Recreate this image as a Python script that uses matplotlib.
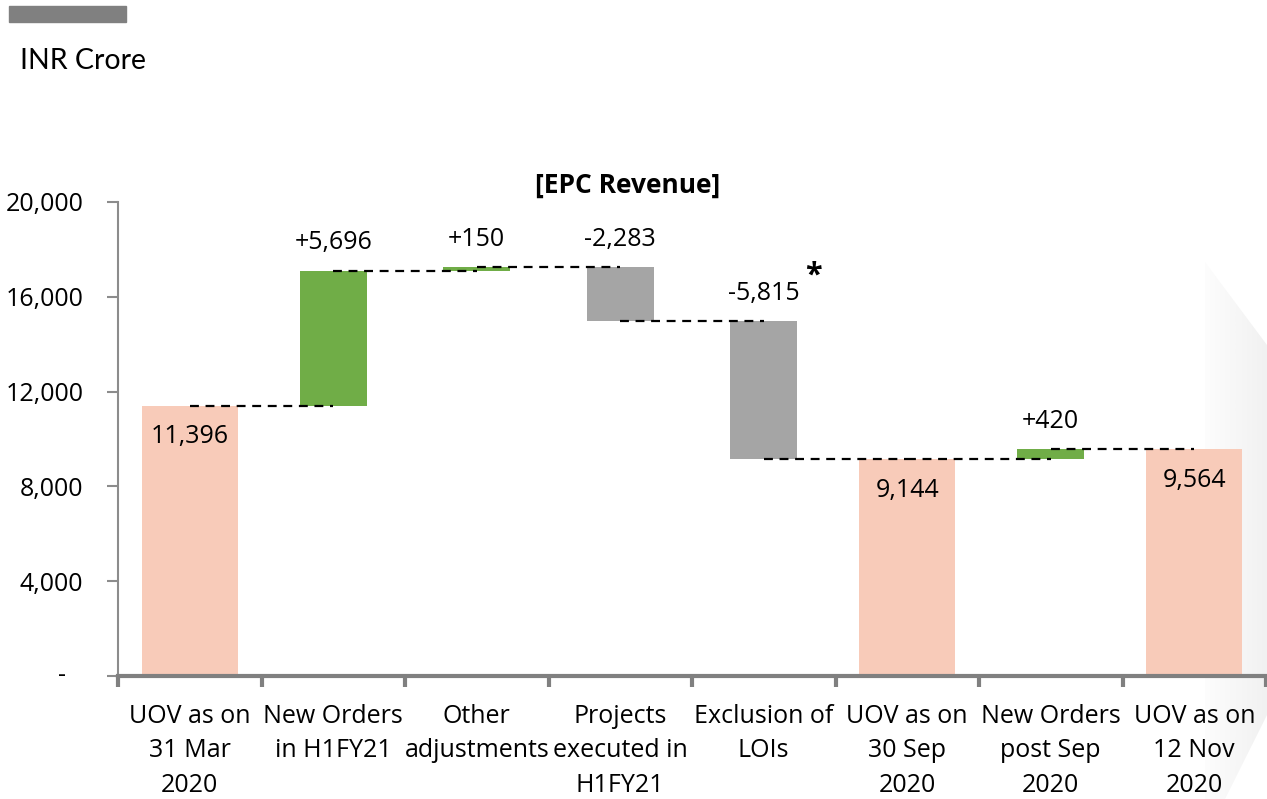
import matplotlib
matplotlib.use("Agg")
import matplotlib.pyplot as plt
from matplotlib.patches import Polygon
import numpy as np

categories = ["UOV as on\n31 Mar\n2020", "New Orders\nin H1FY21", "Other\nadjustments",
              "Projects\nexecuted in\nH1FY21", "Exclusion of\nLOIs", "UOV as on\n30 Sep\n2020",
              "New Orders\npost Sep\n2020", "UOV as on\n12 Nov\n2020"]
values = [11396, 5696, 150, -2283, -5815, 9144, 420, 9564]
kinds = ["total", "delta", "delta", "delta", "delta", "total", "delta", "total"]
labels = ["11,396", "+5,696", "+150", "-2,283", "-5,815", "9,144", "+420", "9,564"]
yticks = [0, 4000, 8000, 12000, 16000, 20000]
yticklabels = ["", "4,000", "8,000", "12,000", "16,000", "20,000"]

plt.rcParams['font.family'] = ['Open Sans', 'DejaVu Sans']
FS = 18
W, H = 1267, 799

fig = plt.figure(figsize=(W/100, H/100), dpi=100)

# faint decorative gradient at right edge
bg = fig.add_axes([0, 0, 1, 1], zorder=-5)
bg.set_xlim(0, W); bg.set_ylim(H, 0); bg.axis("off")
grad = np.linspace(0, 1, 256)[None, :]
im = bg.imshow(grad, extent=[1205, W, H, 260], cmap="Greys", vmin=-0.2, vmax=10, aspect="auto")
poly = Polygon([(1205, 262), (1267, 345), (1267, 715), (1225, 799), (1205, 799)], closed=True,
               transform=bg.transData, fc="none", ec="none")
bg.add_patch(poly)
im.set_clip_path(poly)

ax = fig.add_axes([118/W, 1-676/H, (1266-118)/W, (676-202)/H])
ax.patch.set_alpha(0)

C_TOTAL = "#F8CBB9"
C_UP = "#70AD47"
C_DOWN = "#A5A5A5"

x = np.arange(len(values))
w_total, w_delta = 0.67, 0.47
cum = 0
levels = []
for i, (v, k) in enumerate(zip(values, kinds)):
    if k == "total":
        bottom, height, col, w = 0, v, C_TOTAL, w_total
        cum = v
    else:
        w = w_delta
        if v >= 0:
            bottom, height, col = cum, v, C_UP
        else:
            bottom, height, col = cum + v, -v, C_DOWN
        cum += v
    ax.bar(x[i], height, bottom=bottom, width=w, color=col, zorder=2)
    top = bottom + height
    if k == "total":
        ax.annotate(labels[i], (x[i], top), xytext=(0, -31), textcoords="offset pixels",
                    ha="center", va="center", fontsize=FS, zorder=4)
    else:
        ax.annotate(labels[i], (x[i], top), xytext=(0, 28), textcoords="offset pixels",
                    ha="center", va="center", fontsize=FS, zorder=4)
    levels.append(cum)

for i in range(len(values) - 1):
    ax.plot([x[i], x[i+1]], [levels[i], levels[i]], ls=(0, (4, 3)), color="black", lw=1.6, zorder=3)

# asterisk next to LOI label
ax.annotate("*", (x[4], levels[3]), xytext=(50, 46), textcoords="offset pixels",
            fontsize=22, fontweight="bold", ha="center", va="center")

ax.set_xlim(-0.5, len(values) - 0.5)
ax.set_ylim(0, 20000)
ax.set_yticks(yticks)
ax.set_yticklabels(yticklabels, fontsize=FS)
ax.annotate("-", (0, 0), xycoords=("axes fraction", "data"), xytext=(-56, 0), textcoords="offset pixels",
            ha="center", va="center", fontsize=FS)
ax.set_xticks(x)
ax.set_xticklabels(categories, fontsize=FS, linespacing=1.5)
ax.set_xticks(np.arange(-0.5, len(values)), minor=True)
ax.tick_params(axis="x", which="major", length=0, pad=20)
ax.tick_params(axis="x", which="minor", length=8, width=3, color="#808080", direction="out")
ax.tick_params(axis="y", length=8, width=1.5, color="#8C8C8C", pad=17)

for s in ["top", "right"]:
    ax.spines[s].set_visible(False)
ax.spines["left"].set_color("#8C8C8C")
ax.spines["left"].set_linewidth(1.5)
ax.spines["bottom"].set_color("#808080")
ax.spines["bottom"].set_linewidth(3)

ax.text((628-118)/1148, 1 + 17/474, "[EPC Revenue]", transform=ax.transAxes, fontsize=19,
        fontweight="bold", ha="center", va="center")

# header decorations
fig.patches.append(plt.Rectangle((9/W, 1-22/H), 117/W, 16/H, transform=fig.transFigure,
                                 color="#808080", zorder=5))
fig.text(20/W, 1-61/H, "INR Crore", fontsize=20.5, family=["Lato", "DejaVu Sans"], va="center", ha="left")

fig.savefig("out.png", dpi=100)
